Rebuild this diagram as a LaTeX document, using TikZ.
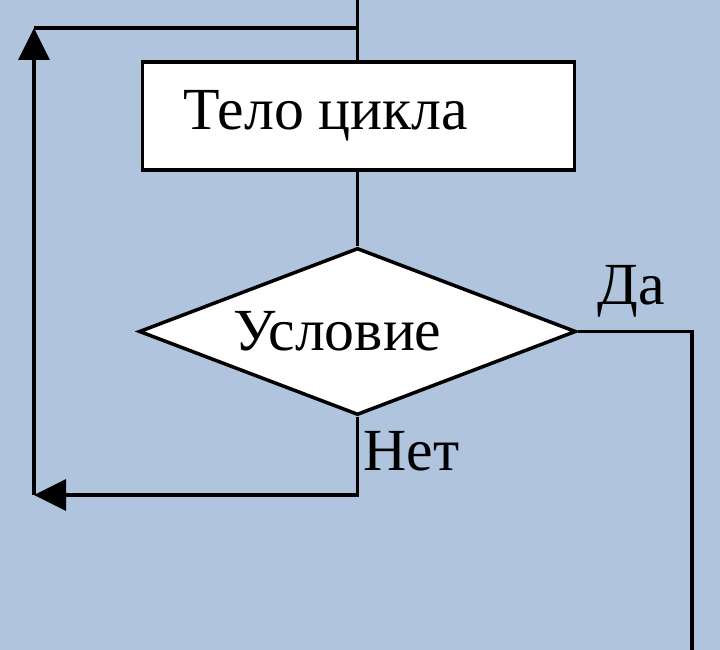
\documentclass[tikz,border=0pt]{standalone}
\usepackage{fontspec}
\setmainfont{Liberation Serif}
\usetikzlibrary{arrows.meta,positioning,shapes.geometric}

\begin{document}
\begin{tikzpicture}[
  font=\fontsize{34}{40}\selectfont,
  line width=2pt,
  box/.style={draw,fill=white,minimum width=8.64cm,minimum height=2.16cm,inner sep=0pt},
  cond/.style={draw,fill=white,diamond,aspect=2.6,minimum width=8.74cm,minimum height=3.34cm,inner sep=0pt},
  arr/.style={-{Triangle[length=0.64cm,width=0.62cm]}},
]
\fill[fill={rgb,255:red,176;green,196;blue,222}] (0,0) rectangle (14.4,-13);
\useasboundingbox (0,0) rectangle (14.4,-13);
\node[box] (body) at (7.17,-2.32) {\raisebox{-0.1cm}{Тело цикла}\kern1.3cm};
\node[cond] (test) at (7.15,-6.63) {\raisebox{-0.06cm}{Условие}\kern0.8cm};
\coordinate (in) at (7.15,0);
\coordinate (back) at (7.15,-0.56);
\coordinate (up) at (0.68,-0.56);
\coordinate (low) at (0.68,-9.9);
\coordinate (out) at (13.84,-13);
\node[anchor=base west] (yes) at (11.8,-6.1) {Да};
\node[anchor=base west,inner xsep=0pt] (no) at (7.24,-9.42) {Нет};
\draw (in) -- (body.north -| in);
\draw (body.south -| in) -- (test.north);
\draw[arr] (test.south) |- (low);
\draw[arr] (low) -- (up);
\draw (up) -- (back);
\draw (test.east) -| (out);
\end{tikzpicture}
\end{document}
